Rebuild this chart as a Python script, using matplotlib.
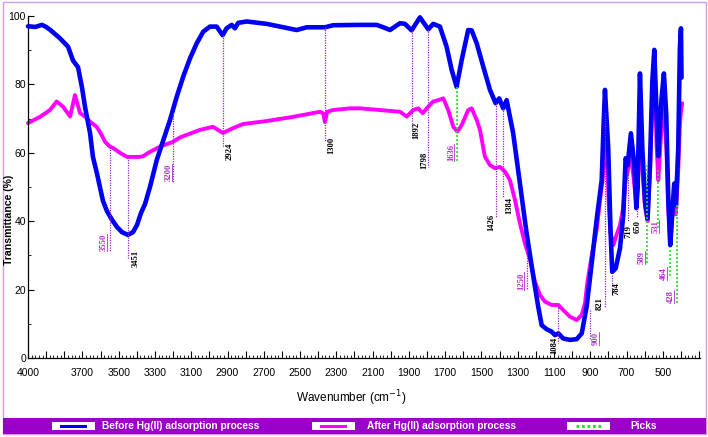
import matplotlib
matplotlib.use("Agg")
import matplotlib.pyplot as plt
from matplotlib import font_manager
from matplotlib.lines import Line2D
from matplotlib.patches import Rectangle
from matplotlib.ticker import MultipleLocator, FuncFormatter

# FTIR spectrum before Hg(II) adsorption
before_wn = [4000, 3960, 3923, 3900, 3879, 3824, 3779, 3752, 3724, 3702, 3686, 3658, 3642, 3620,
             3587, 3565, 3537, 3509, 3482, 3449, 3421, 3399, 3377, 3355, 3327, 3290, 3254, 3217,
             3180, 3144, 3107, 3070, 3034, 2997, 2960, 2927, 2905, 2877, 2859, 2841, 2794, 2684,
             2519, 2463, 2363, 2317, 2170, 2078, 2041, 2004, 1949, 1922, 1885, 1839, 1793, 1766,
             1729, 1692, 1664, 1637, 1609, 1573, 1554, 1526, 1490, 1453, 1422, 1402, 1380, 1361,
             1325, 1288, 1251, 1214, 1187, 1168, 1140, 1113, 1095, 1076, 1049, 1012, 975, 947,
             920, 892, 865, 837, 828, 819, 801, 788, 779, 760, 736, 718, 705, 694, 676, 657,
             646, 639, 626, 613, 598, 584, 571, 558, 547, 534, 525, 507, 494, 481, 470, 459,
             444, 437, 428, 415, 406, 400, 397]
before_t = [97, 96.8, 97.4, 96.8, 96, 93.5, 91, 87, 85, 79, 73.5, 65.8, 58.8, 54,
            46, 43, 40.4, 38.3, 36.8, 36, 36.8, 38.9, 42.4, 45, 50.1, 57.9, 63.7, 69.6,
            76.4, 82.3, 87.6, 92, 95.4, 96.9, 96.9, 94.4, 96.4, 97.4, 96.4, 98, 98.4, 97.7,
            95.9, 96.7, 96.7, 97.3, 97.4, 97.4, 96.7, 95.9, 97.9, 97.7, 95.8, 99.6, 96.1, 97.7,
            96.9, 91, 84.2, 79.3, 87.1, 95.9, 95.8, 92, 85.2, 78.4, 74.5, 75.9, 73, 75.4,
            65.7, 51.1, 36.5, 23.8, 15, 9.6, 8.4, 7.7, 6.7, 7.2, 5.7, 5.3, 5.5, 7.2,
            15, 27.8, 40.4, 52, 66, 78.4, 61.3, 36.9, 25.2, 26.2, 32.1, 41.8, 58.4, 56.4, 65.7, 56.4,
            43.8, 49.7, 83.2, 61.3, 45.7, 40.8, 56.4, 80.8, 90.1, 71, 59, 75.9, 83.2, 71, 46.7, 33,
            45.7, 51, 44.7, 61.3, 90.5, 96.4, 82]

# FTIR spectrum after Hg(II) adsorption
after_wn = [4000, 3934, 3879, 3842, 3807, 3768, 3741, 3713, 3686, 3658, 3621, 3594, 3575, 3548,
            3531, 3493, 3454, 3383, 3366, 3327, 3272, 3201, 3162, 3052, 2980, 2925, 2870, 2815,
            2682, 2539, 2390, 2372, 2363, 2350, 2319, 2225, 2170, 2059, 1949, 1912, 1876, 1848,
            1824, 1793, 1766, 1738, 1710, 1683, 1655, 1633, 1609, 1573, 1554, 1526, 1508, 1481,
            1453, 1425, 1398, 1370, 1343, 1315, 1288, 1260, 1232, 1205, 1177, 1150, 1113, 1076,
            1049, 1012, 975, 947, 929, 917, 892, 865, 846, 832, 822, 816, 808, 798, 790, 773,
            755, 736, 718, 705, 692, 676, 660, 646, 638, 626, 613, 598, 584, 571, 558, 547,
            534, 525, 507, 494, 481, 470, 459, 444, 437, 428, 415, 406, 400, 393]
after_t = [68.7, 70.5, 72.5, 75, 73.5, 70.6, 76.9, 71.6, 70.6, 69.1, 67.6, 65.2, 63.2, 61.8,
           61.4, 60, 58.8, 58.8, 59, 60.3, 61.8, 63.2, 64.5, 66.7, 67.6, 65.8, 67.2, 68.4,
           69.3, 70.5, 72, 71.5, 69, 72, 72.5, 73, 73, 72.5, 72, 70.6, 72.5, 73,
           71.6, 73.5, 75, 75.4, 75.9, 72.5, 67.6, 66.2, 68.1, 72.5, 73, 69.6, 66.7, 58.9,
           56.4, 55.5, 55.9, 54.5, 52, 46.2, 39.4, 33.5, 28.7, 22.3, 18.4, 16.5, 15.5, 15.5,
           14, 12.1, 11.1, 12.6, 16, 21.8, 30, 37.4, 46.2, 52, 60, 64.5, 60, 45, 37, 33,
           36, 38.9, 44, 52, 55, 60, 52, 45, 50, 72, 55, 44, 40, 54, 75, 84,
           62, 52, 68, 72.5, 62, 44, 33, 44, 48, 42, 55, 68, 72, 74.5]

# peak marks: label, drop-line wavenumber, line top/bottom (%), label position, type
peak_text = ["3550", "3451", "3200", "2924", "1300", "1892", "1798", "1636", "1426", "1384",
             "1250", "1084", "900", "821", "784", "719", "650", "589", "531", "464", "428"]
peak_wn = [3548, 3449, 3201, 2925, 2363, 1885, 1793, 1635, 1422, 1380,
           1249, 1078, 900, 819, 781, 692, 645, 585, 525, 461, 424]
peak_top = [61.8, 58.8, 71.6, 94.4, 96.7, 95.8, 96.1, 79.3, 74.5, 73,
            30, 15.5, 14, 71.6, 24.3, 54.4, 43.8, 56.4, 55, 31.6, 44.7]
peak_bottom = [31, 29, 51.5, 61.7, 63.2, 67.3, 55.8, 57, 41, 47.2,
               20, 4.4, 5.5, 15, 18.4, 39.8, 41.2, 27.8, 38, 23.7, 15.5]
label_wn = [3584, 3405, 3225, 2889, 2327, 1858, 1814, 1668, 1444, 1348,
            1282, 1100, 869, 847, 753, 689, 638, 618, 540, 496, 455]
label_t = [33.8, 29.2, 54.2, 60.4, 62.3, 66.5, 57.7, 60.1, 39.7, 44.7,
           22.5, 3.8, 5.7, 15.8, 20.2, 37.0, 38.4, 29.4, 38.5, 24.7, 18]
label_kind = ["after", "before", "after", "before", "before", "before", "before", "after_pick",
              "before", "before", "after", "before", "after", "before", "before", "before",
              "before", "after_pick", "after_pick", "after_pick", "after_pick"]

x_labelled = [4000, 3700, 3500, 3300, 3100, 2900, 2700, 2500, 2300, 2100, 1900, 1700,
              1500, 1300, 1100, 900, 700, 500]

W, H = 708, 437
BLUE = "#0000f2"
MAGENTA = "#ff00ff"
VIOLET = "#a020d0"
GREEN = "#1ee61e"
LABEL_MAG = "#b030c8"

fonts = {f.name for f in font_manager.fontManager.ttflist}
tick_font = "Liberation Sans Narrow" if "Liberation Sans Narrow" in fonts else "Liberation Sans"

fig = plt.figure(figsize=(W / 100, H / 100), dpi=100)
ax = fig.add_axes([28 / W, 1 - 358 / H, 672 / W, 342 / H])

ax.plot(after_wn, after_t, color=MAGENTA, lw=2.8, zorder=2, clip_on=False,
        solid_joinstyle="round", solid_capstyle="round")
ax.plot(before_wn, before_t, color=BLUE, lw=3.3, zorder=3, clip_on=False,
        solid_joinstyle="round", solid_capstyle="round")

ax.set_xlim(4000, 295)
ax.set_ylim(0, 100)
for s in ["top", "right"]:
    ax.spines[s].set_visible(False)
for s in ["left", "bottom"]:
    ax.spines[s].set_linewidth(0.9)

ax.xaxis.set_major_locator(MultipleLocator(100))
ax.xaxis.set_minor_locator(MultipleLocator(20))
ax.xaxis.set_major_formatter(FuncFormatter(
    lambda v, p: str(int(round(v))) if int(round(v)) in x_labelled else ""))
ax.yaxis.set_major_locator(MultipleLocator(20))
ax.yaxis.set_minor_locator(MultipleLocator(10))
ax.tick_params(axis="x", which="major", direction="in", length=5, width=0.8, pad=7,
               labelsize=7.5, labelfontfamily=tick_font)
ax.tick_params(axis="x", which="minor", direction="in", length=2.5, width=0.6)
ax.tick_params(axis="y", which="major", direction="in", length=4, width=0.8, pad=1.5,
               labelsize=7.5, labelfontfamily=tick_font)
ax.tick_params(axis="y", which="minor", direction="in", length=2.5, width=0.6)

# drop lines and peak labels
mag_texts = []
for txt, wn, t0, t1, lw_, lt, kind in zip(peak_text, peak_wn, peak_top, peak_bottom,
                                          label_wn, label_t, label_kind):
    if kind == "after_pick":
        ax.plot([wn, wn], [t0, t1], color=GREEN, lw=1.2, ls=(0, (1.2, 1.2)), zorder=4)
    else:
        ax.plot([wn, wn], [t0, t1], color=VIOLET, lw=0.9, ls=(0, (1, 1)), zorder=4)
    col = "black" if kind == "before" else LABEL_MAG
    t = ax.text(lw_, lt, txt, rotation=90, ha="center", va="center", fontsize=6.2,
                family="Liberation Serif", weight="bold", color=col, zorder=5)
    if kind != "before":
        mag_texts.append(t)

fig.text(9 / W, 1 - 220 / H, "Transmittance (%)", rotation=90, ha="center", va="center",
         fontsize=7.6, weight="bold", family="Liberation Sans")
fig.text(351 / W, 1 - 398 / H, "Wavenumber (cm$^{-1}$)", ha="center", va="center",
         fontsize=8.5, family="Liberation Sans")

# frame and legend bar
fig.patches.append(Rectangle((3 / W, 3 / H), 703 / W, 432 / H, transform=fig.transFigure,
                             fill=False, edgecolor="#d49ae8", lw=1.0, zorder=0))
fig.patches.append(Rectangle((3 / W, 1 - 434 / H), 703 / W, 16 / H, transform=fig.transFigure,
                             facecolor="#9a00c8", edgecolor="none", zorder=1))

legend_items = [("Before Hg(II) adsorption process", 52, 102, BLUE, "-"),
                ("After Hg(II) adsorption process", 312, 367, MAGENTA, "-"),
                ("Picks", 567, 630, GREEN, ":")]
for name, bx, tx, col, style in legend_items:
    fig.patches.append(Rectangle((bx / W, 1 - 430 / H), 43 / W, 8 / H, transform=fig.transFigure,
                                 facecolor="white", edgecolor="none", zorder=2))
    if style == "-":
        fig.add_artist(Line2D([(bx + 9) / W, (bx + 33) / W], [1 - 426 / H, 1 - 426 / H],
                              transform=fig.transFigure, color=col, lw=2.2, zorder=3))
    else:
        fig.add_artist(Line2D([(bx + 9) / W, (bx + 36) / W], [1 - 426 / H, 1 - 426 / H],
                              transform=fig.transFigure, color=col, lw=2.2,
                              ls=(0, (0.9, 0.9)), zorder=3))
    fig.text(tx / W, 1 - 426 / H, name, ha="left", va="center", fontsize=7.3, weight="bold",
             color="white", family="Liberation Sans", zorder=3)

# underline for the labels of the after-adsorption peaks
fig.canvas.draw()
renderer = fig.canvas.get_renderer()
for t in mag_texts:
    bb = t.get_window_extent(renderer)
    x = (bb.x1 - 0.5) / W
    fig.add_artist(Line2D([x, x], [bb.y0 / H, bb.y1 / H], transform=fig.transFigure,
                          color=LABEL_MAG, lw=0.6, zorder=5))

fig.savefig("out.png", dpi=100)
